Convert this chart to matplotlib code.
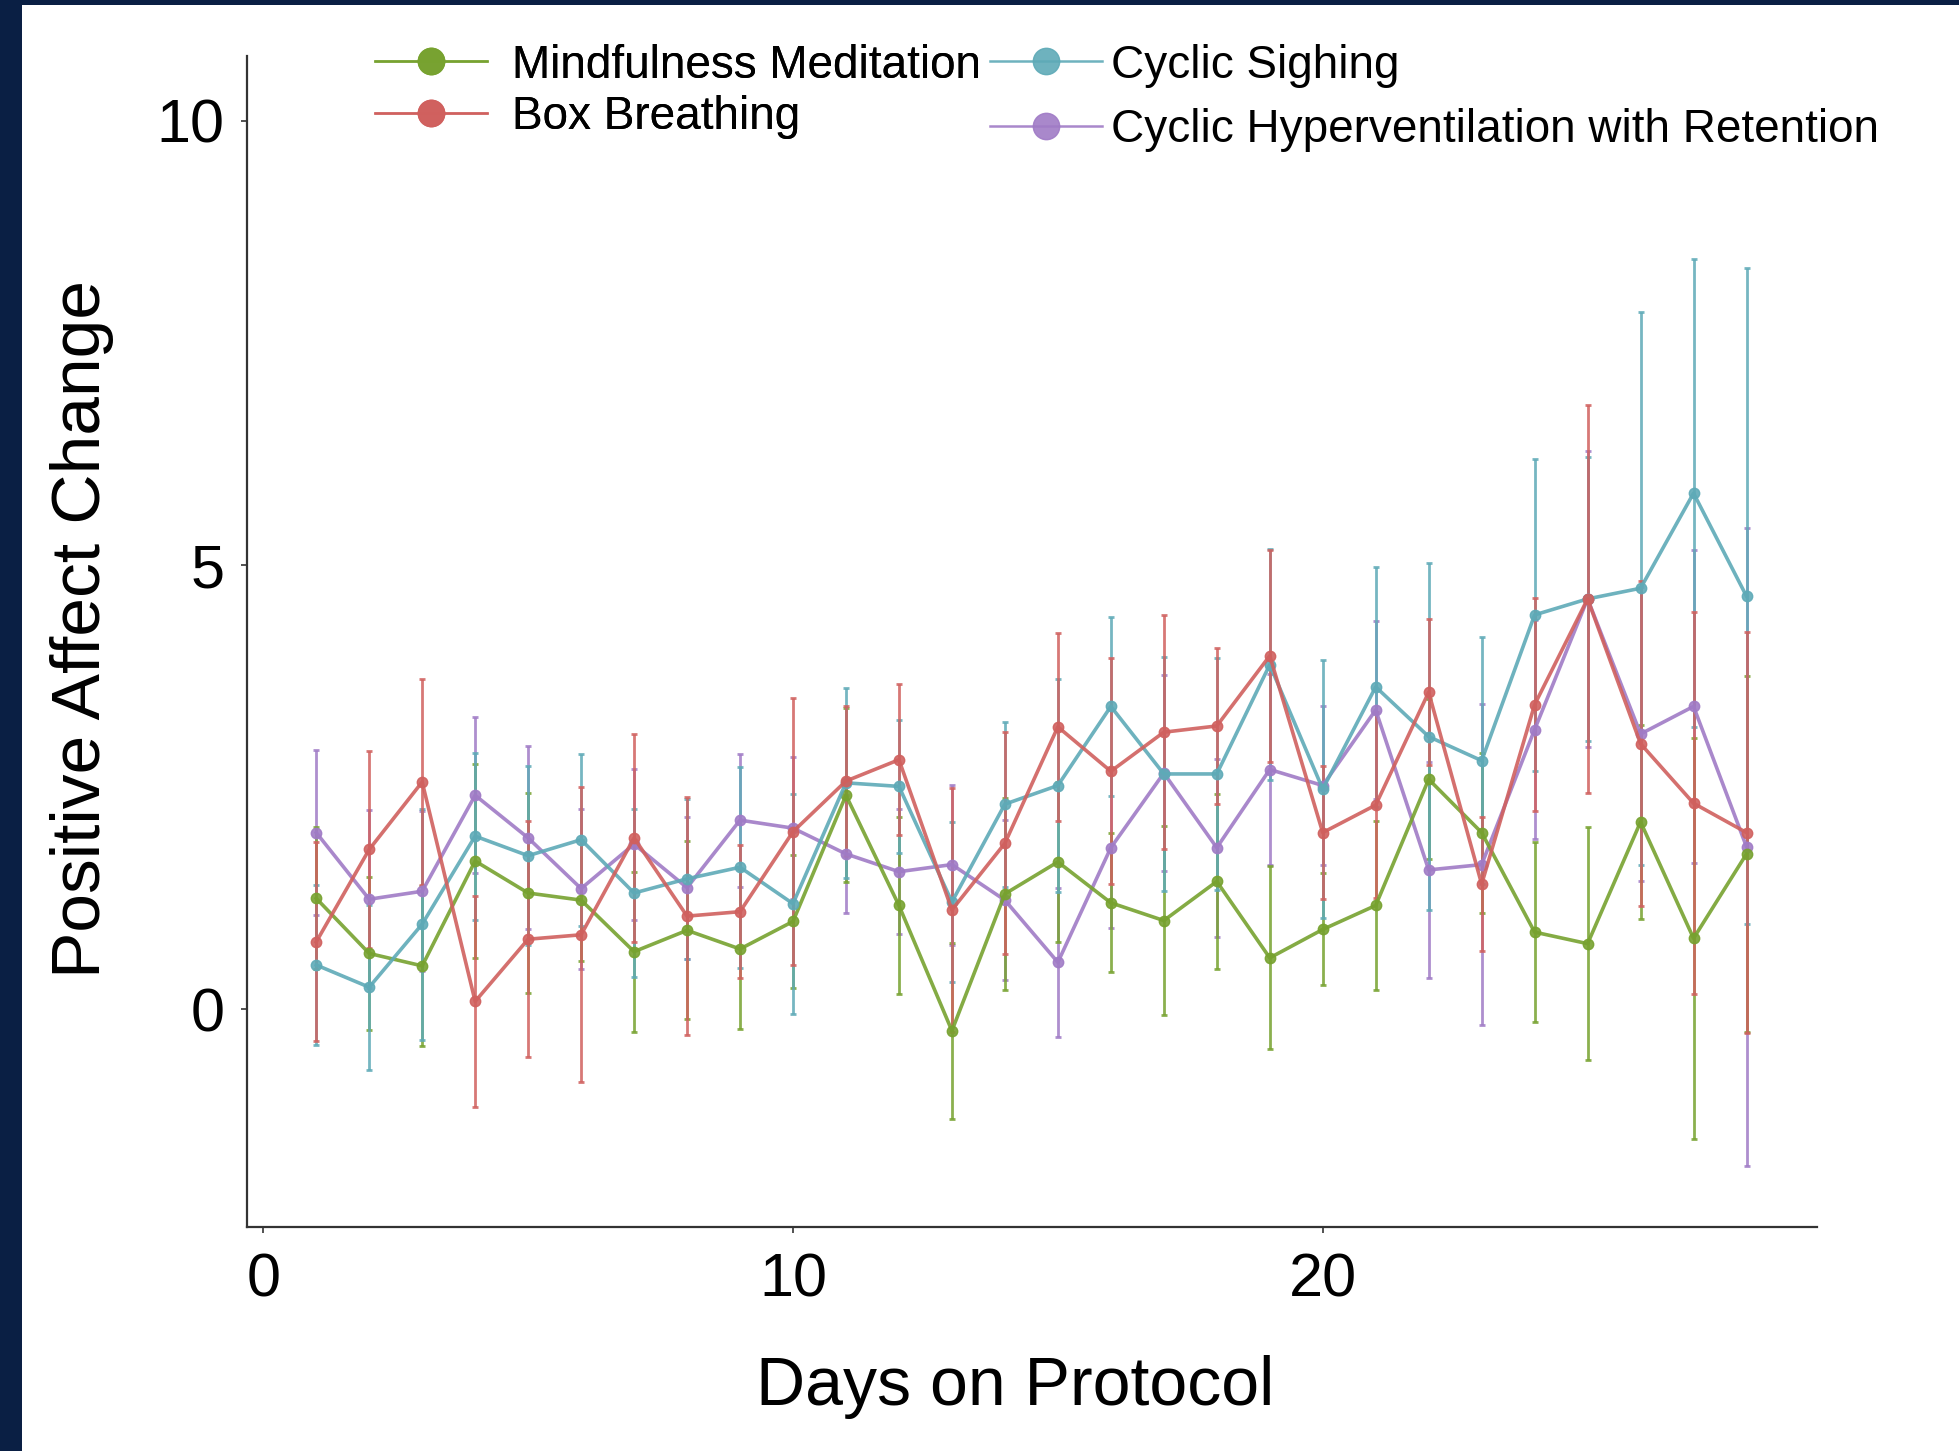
import matplotlib
matplotlib.use("Agg")
import matplotlib.pyplot as plt
from matplotlib.patches import Rectangle
from matplotlib.lines import Line2D

plt.rcParams['font.family'] = ['Liberation Sans', 'DejaVu Sans']

days = list(range(1, 29))

# mean change and error bar half-width per protocol
mindful = [1.25, 0.63, 0.49, 1.67, 1.31, 1.23, 0.65, 0.89, 0.68, 0.99,
           2.41, 1.17, -0.24, 1.30, 1.66, 1.20, 1.00, 1.44, 0.58, 0.90,
           1.17, 2.59, 1.99, 0.87, 0.74, 2.11, 0.80, 1.75]
mindful_err = [0.80, 0.86, 0.90, 1.09, 1.13, 0.68, 0.90, 1.00, 0.90, 0.75,
               0.98, 1.00, 0.99, 1.08, 0.90, 0.78, 1.06, 0.98, 1.03, 0.63,
               0.95, 0.90, 0.90, 1.01, 1.31, 1.09, 2.26, 2.00]

box = [0.76, 1.80, 2.56, 0.09, 0.79, 0.84, 1.93, 1.05, 1.10, 2.00,
       2.57, 2.81, 1.12, 1.87, 3.18, 2.68, 3.12, 3.19, 3.98, 1.99,
       2.30, 3.57, 1.41, 3.43, 4.62, 2.99, 2.32, 1.99]
box_err = [1.12, 1.11, 1.16, 1.19, 1.33, 1.66, 1.17, 1.34, 0.75, 1.50,
           0.84, 0.85, 1.37, 1.25, 1.06, 1.27, 1.32, 0.88, 1.19, 0.75,
           1.05, 0.82, 0.75, 1.20, 2.18, 1.83, 2.15, 2.26]

sighing = [0.50, 0.25, 0.96, 1.95, 1.73, 1.91, 1.31, 1.47, 1.60, 1.19,
           2.55, 2.51, 1.21, 2.31, 2.52, 3.41, 2.65, 2.65, 3.88, 2.48,
           3.63, 3.07, 2.80, 4.44, 4.62, 4.74, 5.81, 4.65]
sighing_err = [0.90, 0.93, 1.30, 0.94, 1.01, 0.97, 0.94, 0.90, 1.13, 1.24,
               1.07, 0.75, 0.90, 0.93, 1.20, 1.01, 1.32, 1.31, 1.30, 1.45,
               1.35, 1.95, 1.39, 1.76, 1.60, 3.11, 2.63, 3.69]

hyper = [1.99, 1.24, 1.33, 2.41, 1.93, 1.36, 1.86, 1.37, 2.13, 2.04,
         1.75, 1.55, 1.63, 1.23, 0.53, 1.82, 2.66, 1.82, 2.70, 2.52,
         3.37, 1.57, 1.63, 3.15, 4.62, 3.10, 3.41, 1.83]
hyper_err = [0.93, 1.00, 0.90, 0.88, 1.03, 0.90, 0.85, 0.80, 0.75, 0.80,
             0.66, 0.70, 0.90, 0.90, 0.84, 0.90, 1.10, 1.00, 1.08, 0.90,
             1.00, 1.22, 1.81, 1.23, 1.67, 1.65, 1.76, 3.59]

labels = ['Mindfulness Meditation', 'Box Breathing', 'Cyclic Sighing',
          'Cyclic Hyperventilation with Retention']
colors = ['#77a22f', '#d0605e', '#5eaab7', '#a07bc6']

fig = plt.figure(figsize=(19.59, 14.51), dpi=100, facecolor='#0a1f44')
fig.add_artist(Rectangle((22 / 1959, 0), 1, 1 - 5 / 1451, transform=fig.transFigure,
                         facecolor='white', edgecolor='none', zorder=0))
ax = fig.add_axes([0.126, 0.1543, 0.8015, 0.8071])
ax.set_facecolor('none')

series = [(hyper, hyper_err, 3), (mindful, mindful_err, 0),
          (sighing, sighing_err, 2), (box, box_err, 1)]
for k, (vals, errs, ci) in enumerate(series):
    ax.errorbar(days, vals, yerr=errs, fmt='none', ecolor=colors[ci], elinewidth=2.0,
                capsize=2, capthick=2, alpha=0.85, zorder=2 + k * 0.01)
for k, (vals, errs, ci) in enumerate(series):
    ax.plot(days, vals, color=colors[ci], lw=2.6, marker='o', ms=7.5, alpha=0.9,
            zorder=3 + k * 0.01)

ax.set_xlim(-0.31, 29.33)
ax.set_ylim(-2.45, 10.73)
ax.set_xticks([0, 10, 20])
ax.set_yticks([0, 5, 10])
for side in ['top', 'right']:
    ax.spines[side].set_visible(False)
for side in ['left', 'bottom']:
    ax.spines[side].set_color('#333333')
    ax.spines[side].set_linewidth(1.6)
ax.tick_params(axis='both', length=4, width=1.2, color='#333333', labelsize=44,
               labelcolor='black')
ax.tick_params(axis='x', pad=14)
ax.tick_params(axis='y', pad=12)
ax.set_xlabel('Days on Protocol', fontsize=49)
ax.set_ylabel('Positive Affect Change', fontsize=50, labelpad=31)
ax.xaxis.set_label_coords(0.489, -0.109)
ax.yaxis.label.set_y(0.511)

handles = [Line2D([], [], color=c, lw=1.8, marker='o', ms=19, alpha=0.9) for c in colors]
leg1 = fig.legend(handles[:2], labels[:2], loc='upper left', bbox_to_anchor=(0.1914, 0.970),
                  frameon=False, fontsize=33, handlelength=2.44, handletextpad=0.55,
                  labelspacing=0.16, borderpad=0, borderaxespad=0)
fig.add_artist(leg1)
leg2 = fig.legend(handles[2:], labels[2:], loc='upper left', bbox_to_anchor=(0.5054, 0.970),
                  frameon=False, fontsize=33, handlelength=2.44, handletextpad=0.2,
                  labelspacing=0.44, borderpad=0, borderaxespad=0)

fig.savefig('out.png', dpi=100, facecolor=fig.get_facecolor())
